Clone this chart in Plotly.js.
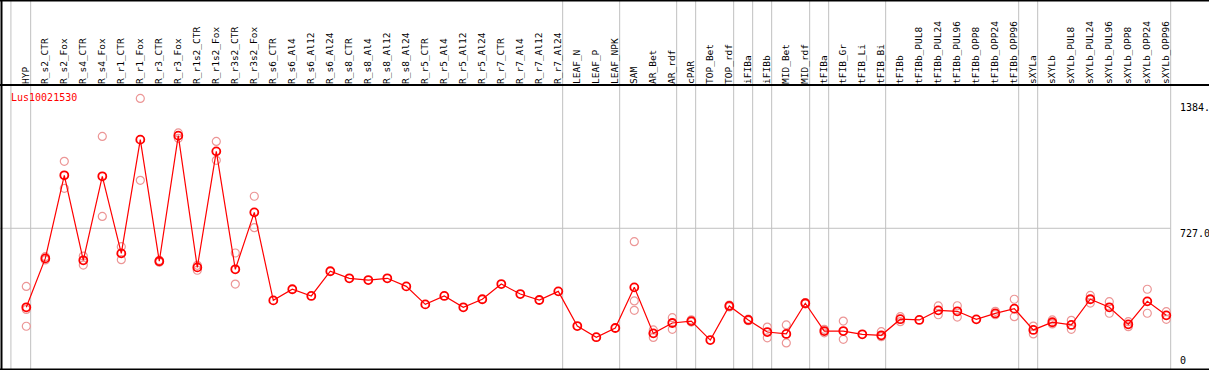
<!DOCTYPE html>
<html>
<head>
<meta charset="utf-8">
<script src="https://cdn.plot.ly/plotly-3.0.1.min.js"></script>
<style>html,body{margin:0;padding:0;background:#fff;}#chart{width:1209px;height:370px;}</style>
</head>
<body>
<div id="chart"></div>
<script>
const categories = ["HYP","R_s2_CTR","R_s2_Fox","R_s4_CTR","R_s4_Fox","R_r1_CTR","R_r1_Fox","R_r3_CTR","R_r3_Fox","R_r1s2_CTR","R_r1s2_Fox","R_r3s2_CTR","R_r3s2_Fox","R_s6_CTR","R_s6_Al4","R_s6_Al12","R_s6_Al24","R_s8_CTR","R_s8_Al4","R_s8_Al12","R_s8_Al24","R_r5_CTR","R_r5_Al4","R_r5_Al12","R_r5_Al24","R_r7_CTR","R_r7_Al4","R_r7_Al12","R_r7_Al24","LEAF_N","LEAF_P","LEAF_NPK","SAM","AR_Bet","AR_rdf","cPAR","TOP_Bet","TOP_rdf","iFIBa","iFIBb","MID_Bet","MID_rdf","tFIBa","tFIB_Gr","tFIB_Li","tFIB_Bi","tFIBb","tFIBb_PUL8","tFIBb_PUL24","tFIBb_PUL96","tFIBb_OPP8","tFIBb_OPP24","tFIBb_OPP96","sXYLa","sXYLb","sXYLb_PUL8","sXYLb_PUL24","sXYLb_PUL96","sXYLb_OPP8","sXYLb_OPP24","sXYLb_OPP96"];

const means = [315,570,1003,560,998,596,1189,555,1210,523,1128,513,810,351,409,374,503,466,457,466,424,330,374,315,357,436,384,353,398,217,159,207,419,179,233,243,144,322,249,186,176,336,191,191,174,169,253,249,299,294,252,283,308,197,237,223,357,315,226,346,273];

const rep1 = [424,579,1076,582,1206,631,1404,560,1224,534,1180,598,894,null,null,null,null,null,null,null,null,null,null,null,null,null,null,null,null,null,null,null,657,197,261,250,null,327,253,212,223,340,200,243,null,188,266,null,322,323,null,294,357,217,249,247,377,344,240,409,292];
const rep2 = [216,562,935,535,789,563,977,550,1196,508,1081,436,730,null,null,null,null,null,null,null,null,null,null,null,null,null,null,null,null,null,null,null,299,158,200,238,null,317,245,156,129,332,182,148,null,162,240,null,276,264,null,276,266,176,228,200,337,284,214,284,252];
const rep3 = [304,null,null,null,null,null,null,null,null,null,null,null,null,null,null,null,null,null,null,null,null,null,null,null,null,null,null,null,null,null,null,null,348,null,null,null,null,null,null,null,null,null,null,null,null,null,null,null,null,null,null,null,null,null,null,null,null,null,null,null,null];

const separatorsAfter = [-1, 0, 28, 31, 34, 35, 37, 38, 39, 41, 42, 45, 52, 53, 60];
const yTickVals = [1384, 727, 0];
const yTickText = ["1384.", "727.0", "0"];
const geneName = "Lus10021530";

const idx = categories.map((c, i) => i);
const mono = "DejaVu Sans Mono, monospace";
const repColor = "rgb(236,150,150)";

const traces = [];
[rep1, rep2, rep3].forEach(r => {
  traces.push({
    x: idx, y: r, type: "scatter", mode: "markers", hoverinfo: "skip",
    marker: {symbol: "circle-open", size: 8, color: repColor, line: {width: 1.2, color: repColor}}
  });
});
traces.push({
  x: idx, y: means, type: "scatter", mode: "lines+markers",
  line: {color: "#ff0000", width: 1.2},
  marker: {symbol: "circle-open", size: 8, color: "#ff0000", line: {width: 1.8, color: "#ff0000"}}
});

const shapes = [];
separatorsAfter.forEach(s => {
  const xv = s === -1 ? -0.81 : s + 0.23;
  shapes.push({type: "line", xref: "x", yref: "paper", x0: xv, x1: xv, y0: 0, y1: 1.4,
    line: {color: "#c0c0c0", width: 1}, layer: "below"});
});
// horizontal mid line
shapes.push({type: "line", xref: "paper", yref: "y", x0: 0, x1: 60.23, y0: 727, y1: 727,
  line: {color: "#c0c0c0", width: 1}, layer: "below"});
shapes[shapes.length-1].xref = "x"; shapes[shapes.length-1].x0 = -1.4;
// borders
const H = 285;
shapes.push({type: "line", xref: "paper", yref: "paper", x0: 0, x1: 1, y0: 0.002, y1: 0.002, line: {color: "#000", width: 2}});
shapes.push({type: "line", xref: "paper", yref: "paper", x0: 0, x1: 1, y0: 1, y1: 1, line: {color: "#000", width: 2}});
shapes.push({type: "line", xref: "paper", yref: "paper", x0: 0, x1: 1, y0: 1 + 84.5/H, y1: 1 + 84.5/H, line: {color: "#000", width: 2}});
shapes.push({type: "line", xref: "paper", yref: "paper", x0: 1.5/1209, x1: 1.5/1209, y0: 0, y1: 1 + 85/H, line: {color: "#000", width: 2}});

const annotations = [];
yTickVals.forEach((v, i) => {
  annotations.push({xref: "paper", yref: "y", x: 1178/1209, y: v, text: yTickText[i],
    showarrow: false, xanchor: "left", yanchor: v === 0 ? "bottom" : "top", yshift: v === 0 ? 0 : 2,
    font: {family: mono, size: 10, color: "#000"}});
});
annotations.push({xref: "paper", yref: "paper", x: 8.5/1209, y: (370-97.3)/H, text: geneName,
  showarrow: false, xanchor: "left", yanchor: "middle", font: {family: mono, size: 10, color: "#ff0000"}});

const layout = {
  width: 1209, height: 370,
  margin: {l: 0, r: 0, t: 85, b: 0, pad: 0},
  paper_bgcolor: "#ffffff", plot_bgcolor: "#ffffff",
  showlegend: false,
  xaxis: {
    range: [-1.384, 62.247], side: "top", tickmode: "array", tickvals: idx, ticktext: categories,
    tickangle: -90, ticks: "", ticklen: 0, showgrid: false, zeroline: false, showline: false,
    tickfont: {family: mono, size: 9.5, color: "#000"}, fixedrange: true, automargin: false
  },
  yaxis: {range: [-12, 1474], showticklabels: false, showgrid: false, zeroline: false, showline: false, ticks: "", fixedrange: true},
  shapes: shapes, annotations: annotations
};

Plotly.newPlot("chart", traces, layout, {displayModeBar: false, staticPlot: true});
</script>
</body>
</html>
